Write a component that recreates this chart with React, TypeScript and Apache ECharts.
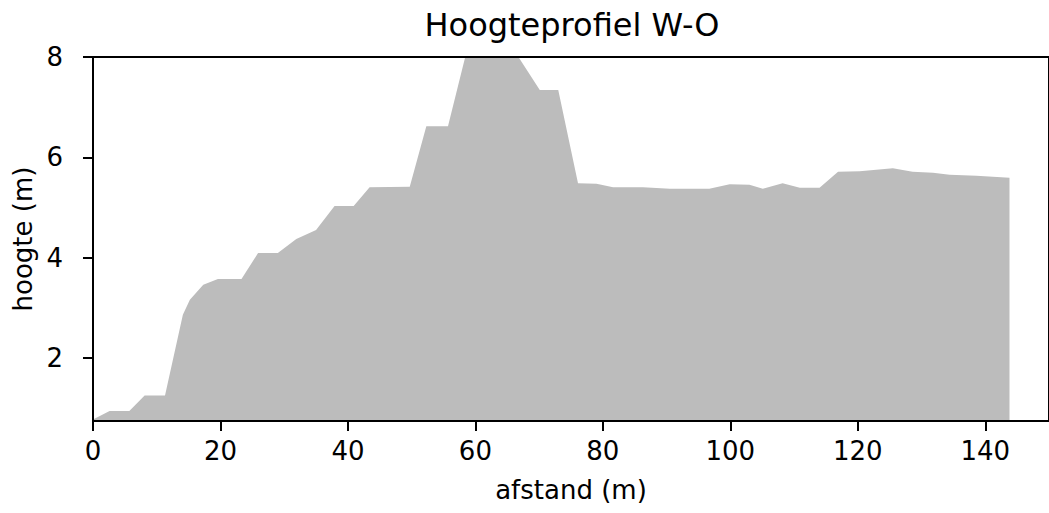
import React, { useEffect, useRef } from "react";
import * as echarts from "echarts";

const titleText = "Hoogteprofiel W-O";
const xName = "afstand (m)";
const yName = "hoogte (m)";

const distance = [
  0, 2.6, 5.7, 8.1, 11.3, 14.1, 15.2, 17.3, 19.6, 23.3, 25.9, 29.0, 31.9, 35.0,
  37.9, 40.9, 43.4, 49.7, 52.3, 55.7, 58.5, 62.0, 66.5, 70.1, 73.0, 76.1, 79.0,
  81.6, 86.3, 90.5, 96.7, 99.9, 103.0, 105.1, 108.2, 110.9, 114.0, 116.9, 120.3,
  125.5, 128.6, 131.8, 134.4, 138.6, 143.8,
];
const height = [
  0.77, 0.94, 0.94, 1.25, 1.25, 2.86, 3.16, 3.46, 3.57, 3.57, 4.09, 4.09, 4.37,
  4.55, 5.03, 5.03, 5.4, 5.41, 6.62, 6.62, 8.05, 8.1, 8.05, 7.34, 7.34, 5.48,
  5.47, 5.4, 5.4, 5.37, 5.37, 5.46, 5.45, 5.37, 5.48, 5.39, 5.39, 5.71, 5.72,
  5.78, 5.71, 5.69, 5.65, 5.63, 5.59,
];
const xTicks = [0, 20, 40, 60, 80, 100, 120, 140];
const yTicks = [2, 4, 6, 8];
const xMin = 0;
const xMax = 150;
const yMin = 0.74;
const yMax = 8;

const FONT = "DejaVu Sans";

export default function App() {
  const ref = useRef<HTMLDivElement>(null);
  useEffect(() => {
    if (!ref.current) return;
    const chart = echarts.init(ref.current, null, { renderer: "svg" });
    const axisCommon = {
      axisLine: { show: false },
      axisTick: { show: true, length: 10, lineStyle: { color: "#000", width: 2 } },
      splitLine: { show: false },
      nameTextStyle: { color: "#000", fontSize: 26, fontFamily: FONT },
    };
    chart.setOption({
      animation: false,
      backgroundColor: "#fff",
      grid: {
        left: 93,
        top: 57,
        width: 958,
        height: 364,
        show: true,
        z: 10,
        borderColor: "#000",
        borderWidth: 2,
        backgroundColor: "transparent",
      },
      graphic: [
        {
          type: "text",
          x: 572,
          y: 25,
          style: {
            text: titleText,
            fontSize: 32,
            fontFamily: FONT,
            fill: "#000",
            textAlign: "center",
            textVerticalAlign: "middle",
          },
        },
      ],
      xAxis: {
        ...axisCommon,
        type: "value",
        min: xMin,
        max: xMax,
        name: xName,
        nameLocation: "middle",
        nameGap: 56,
        axisTick: { ...axisCommon.axisTick, customValues: xTicks },
        axisLabel: {
          customValues: xTicks,
          color: "#000",
          fontSize: 26,
          fontFamily: FONT,
          margin: 17,
        },
      },
      yAxis: {
        ...axisCommon,
        type: "value",
        min: yMin,
        max: yMax,
        name: yName,
        nameLocation: "middle",
        nameGap: 55,
        axisTick: { ...axisCommon.axisTick, customValues: yTicks },
        axisLabel: {
          customValues: yTicks,
          color: "#000",
          fontSize: 26,
          fontFamily: FONT,
          margin: 30,
        },
      },
      series: [
        {
          type: "line",
          z: 1,
          data: distance.map((d, i) => [d, height[i]]),
          symbol: "none",
          lineStyle: { width: 0 },
          areaStyle: { color: "#bcbcbc", opacity: 1, origin: "start" },
          itemStyle: { color: "#bcbcbc" },
          clip: true,
        },
      ],
    });
    return () => chart.dispose();
  }, []);
  return (
    <div
      ref={ref}
      style={{ position: "absolute", left: 0, top: 0, width: 1049, height: 513 }}
    />
  );
}
